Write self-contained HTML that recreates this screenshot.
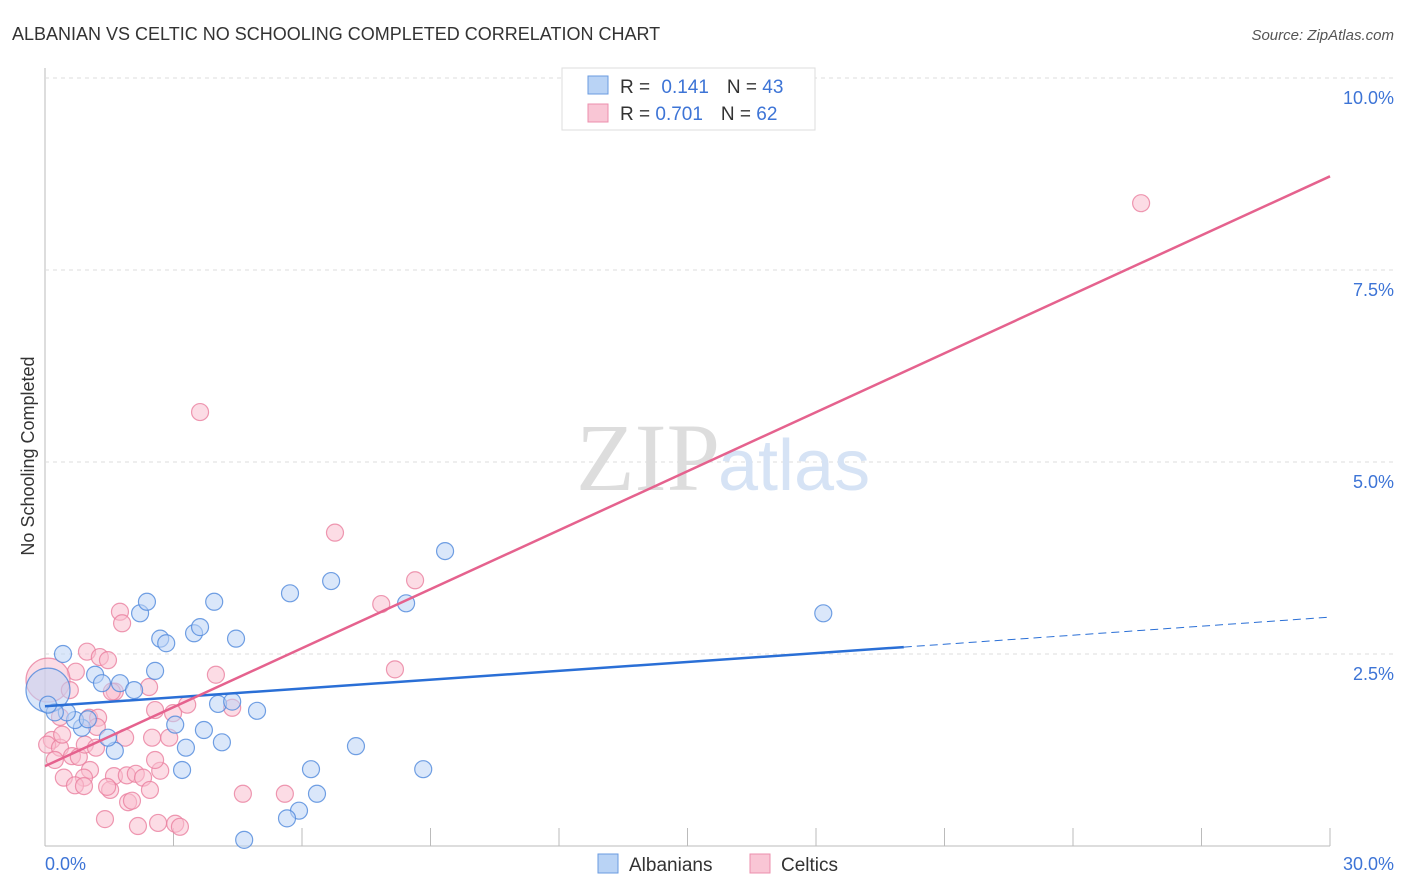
<!DOCTYPE html>
<html><head><meta charset="utf-8"><style>
body{margin:0;background:#fff;font-family:"Liberation Sans",sans-serif}
svg{display:block}
</style></head><body>
<svg width="1406" height="892">
<text x="12" y="40" font-size="18" fill="#333">ALBANIAN VS CELTIC NO SCHOOLING COMPLETED CORRELATION CHART</text>
<text x="1394" y="40" font-size="15" fill="#555" font-style="italic" text-anchor="end">Source: ZipAtlas.com</text>
<text x="0" y="0" transform="translate(34,456) rotate(-90)" font-size="18" fill="#333" text-anchor="middle">No Schooling Completed</text>
<g id="grid"></g>
<text x="720" y="490" font-size="96" fill="#ddd" text-anchor="end" font-family="Liberation Serif">ZIP</text>
<text x="718" y="490" font-size="72" fill="#d6e3f5">atlas</text>
<g id="pts"></g>
<g id="lines"></g>
<g>
<rect x="562" y="68" width="253" height="62" fill="#fff" stroke="#ddd"/>
<rect x="588" y="76" width="20" height="18" fill="#b9d3f5" stroke="#6a9be0"/>
<rect x="588" y="104" width="20" height="18" fill="#f9c6d5" stroke="#ec8fad"/>
<text x="620" y="93" font-size="19" fill="#333">R = <tspan fill="#3d74d6" dx="6">0.141</tspan><tspan dx="18" fill="#333">N = </tspan><tspan fill="#3d74d6">43</tspan></text>
<text x="620" y="120" font-size="19" fill="#333">R = <tspan fill="#3d74d6">0.701</tspan><tspan dx="18" fill="#333">N = </tspan><tspan fill="#3d74d6">62</tspan></text>
</g>
<g>
<rect x="598" y="854" width="20" height="19" fill="#b9d3f5" stroke="#6a9be0"/>
<text x="629" y="871" font-size="19" fill="#333">Albanians</text>
<rect x="750" y="854" width="20" height="19" fill="#f9c6d5" stroke="#ec8fad"/>
<text x="781" y="871" font-size="19" fill="#333">Celtics</text>
</g>
<text x="45" y="870" font-size="18" fill="#3d74d6">0.0%</text>
<text x="1394" y="870" font-size="18" fill="#3d74d6" text-anchor="end">30.0%</text>
</svg>
<script>
const yTicks=[10,7.5,5,2.5];
const yTickLabels=["10.0%","7.5%","5.0%","2.5%"];
const xTicks=[0,3,6,9,12,15,18,21,24,27,30];
const blueX=[0.42,1.17,1.33,1.75,2.08,2.57,2.22,2.38,2.69,2.83,3.48,3.62,3.95,4.46,4.04,4.37,4.95,3.04,3.71,4.13,3.29,1.63,1.47,0.86,0.70,0.51,1.00,0.07,0.23,5.72,6.68,8.43,9.34,18.17,7.26,6.21,8.83,3.20,6.35,5.93,5.65,4.65,0.07];
const blueY=[2.50,2.23,2.12,2.12,2.03,2.28,3.03,3.18,2.70,2.64,2.77,2.85,3.18,2.70,1.85,1.88,1.76,1.58,1.51,1.35,1.28,1.24,1.41,1.54,1.64,1.74,1.65,2.03,1.74,3.29,3.45,3.16,3.84,3.03,1.30,1.00,1.00,0.99,0.68,0.46,0.36,0.08,1.84];
const pinkX=[25.59,3.62,6.77,8.64,7.85,8.17,1.75,1.80,0.98,1.28,1.47,0.72,2.43,1.63,3.99,4.37,3.32,2.99,2.57,2.50,2.90,1.87,1.03,1.24,1.21,0.35,0.16,0.05,0.35,0.63,0.79,1.05,0.44,0.91,0.70,0.91,1.61,1.52,1.91,2.12,2.29,2.69,2.57,1.94,2.03,4.62,5.60,1.40,2.17,2.64,3.04,3.15,0.07,0.58,1.56,0.40,0.93,1.19,0.23,1.45,2.45];
const pinkY=[8.37,5.65,4.08,3.46,3.15,2.30,3.05,2.90,2.53,2.46,2.42,2.27,2.07,2.01,2.23,1.80,1.84,1.73,1.77,1.41,1.41,1.41,1.67,1.67,1.55,1.68,1.38,1.32,1.28,1.17,1.16,0.99,0.89,0.89,0.79,0.78,0.91,0.73,0.92,0.94,0.89,0.98,1.12,0.57,0.59,0.68,0.68,0.35,0.26,0.30,0.29,0.25,2.16,2.03,2.01,1.45,1.32,1.28,1.12,0.77,0.73];
const blueBig=[27], pinkBig=[52];
const blueTrend=[[0,1.82],[20.05,2.59],[30,2.98]];
const pinkTrend=[[0,1.04],[30,8.72]];
const X=v=>45+v*1285/30, Y=v=>846-v*76.8;
const NS="http://www.w3.org/2000/svg";
function mk(t,a,p){const e=document.createElementNS(NS,t);for(const k in a)e.setAttribute(k,a[k]);p.appendChild(e);return e;}
const g=document.getElementById('grid');
const ax=mk('line',{x1:45,y1:68,x2:45,y2:846,stroke:'#bbb'},g);


const bx=mk('line',{x1:45,y1:846,x2:1330,y2:846,stroke:'#bbb'},g);


yTicks.forEach((v,i)=>{
 const l=mk('line',{x1:45,y1:Y(v),x2:1394,y2:Y(v),stroke:'#ddd','stroke-dasharray':'4,4'},g);
 
 
 const t=mk('text',{x:1394,y:Y(v)+26,'font-size':18,fill:'#3d74d6','text-anchor':'end'},g);
 t.textContent=yTickLabels[i];
 
 
});
xTicks.forEach(v=>{
 const l=mk('line',{x1:X(v),y1:828,x2:X(v),y2:846,stroke:'#bbb'},g);
 
 
});
const p=document.getElementById('pts');
function pts(xs,ys,big,fill,stroke,name){
 xs.forEach((x,i)=>{
  const c=mk('circle',{cx:X(x),cy:Y(ys[i]),r:big.includes(i)?22:8.5,fill:fill,'fill-opacity':0.55,stroke:stroke,'stroke-width':1.2,'stroke-opacity':0.8},p);
  
  
 });
}
pts(pinkX,pinkY,pinkBig,'#f9c0d0','#ea7f9f','celtic-point');
pts(blueX,blueY,blueBig,'#bcd4f5','#4f88dc','albanian-point');
const L=document.getElementById('lines');
const b1=mk('line',{x1:X(blueTrend[0][0]),y1:Y(blueTrend[0][1]),x2:X(blueTrend[1][0]),y2:Y(blueTrend[1][1]),stroke:'#2a6fd6','stroke-width':2.5},L);


const b2=mk('line',{x1:X(blueTrend[1][0]),y1:Y(blueTrend[1][1]),x2:X(blueTrend[2][0]),y2:Y(blueTrend[2][1]),stroke:'#2a6fd6','stroke-width':1,'stroke-dasharray':'8,5'},L);


const pl=mk('line',{x1:X(pinkTrend[0][0]),y1:Y(pinkTrend[0][1]),x2:X(pinkTrend[1][0]),y2:Y(pinkTrend[1][1]),stroke:'#e5628e','stroke-width':2.5},L);


</script>
</body></html>
